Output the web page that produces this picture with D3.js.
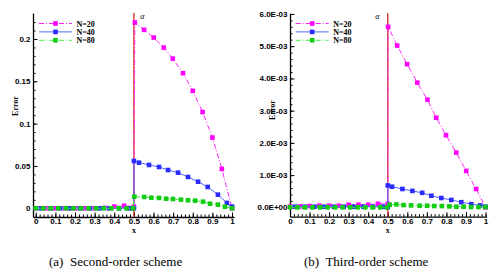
<!DOCTYPE html>
<html>
<head>
<meta charset="utf-8">
<script src="https://cdn.jsdelivr.net/npm/d3@7"></script>
<style>
  body { margin: 0; background: #fff; }
  svg { display: block; font-family: "Liberation Serif", "Times New Roman", serif; }
  .tick text { font-weight: bold; font-size: 8px; }
</style>
</head>
<body>
<div id="chart"></div>
<script>
// ---- data ----
const seriesNames = ["N=20", "N=40", "N=80"]

// (a) second-order
const a20x = [0, 0.05, 0.1, 0.15, 0.2, 0.25, 0.3, 0.35, 0.4, 0.45, 0.5, 0.505, 0.552, 0.601, 0.652, 0.698, 0.75, 0.8, 0.85, 0.9, 0.948, 1]
const a20y = [0, 0, 0, 0, 0, 0, 0, 0.0005, 0.002, 0.003, 0.002, 0.2194, 0.2108, 0.2017, 0.1898, 0.1768, 0.1596, 0.1387, 0.1137, 0.0835, 0.0465, 0]
const a40x = [0.025, 0.075, 0.125, 0.175, 0.225, 0.275, 0.325, 0.375, 0.425, 0.475, 0.5, 0.5, 0.526, 0.577, 0.628, 0.674, 0.725, 0.776, 0.827, 0.876, 0.928, 0.974, 1]
const a40y = [0, 0, 0, 0, 0, 0, 0, 0, 0, 0, 0, 0.0559, 0.0539, 0.0512, 0.0488, 0.0452, 0.0421, 0.037, 0.0314, 0.0252, 0.0161, 0.0063, 0.002]
const a80x = [0, 0.038, 0.077, 0.115, 0.154, 0.192, 0.231, 0.269, 0.308, 0.346, 0.385, 0.423, 0.462, 0.496, 0.502, 0.552, 0.589, 0.628, 0.664, 0.699, 0.74, 0.776, 0.812, 0.852, 0.888, 0.928, 0.964, 1]
const a80y = [0, 0, 0, 0, 0, 0, 0, 0, 0, 0, 0, 0, 0, 0, 0.0137, 0.0134, 0.0125, 0.0122, 0.0113, 0.011, 0.0102, 0.0095, 0.009, 0.0078, 0.0054, 0.0043, 0.0019, 0]

// (b) third-order
const b20x = [0, 0.05, 0.1, 0.15, 0.2, 0.25, 0.3, 0.35, 0.4, 0.45, 0.5, 0.502, 0.548, 0.599, 0.651, 0.703, 0.748, 0.798, 0.85, 0.901, 0.952, 1]
const b20y = [0.00002, 0.00003, 0.00004, 0.00005, 0.00005, 0.00005, 0.00008, 0.00008, 0.00008, 0.00011, 0.00011, 0.0056, 0.00502, 0.00444, 0.00387, 0.00334, 0.00278, 0.00224, 0.0017, 0.00113, 0.00057, 0]
const b40x = [0.025, 0.075, 0.125, 0.175, 0.225, 0.275, 0.325, 0.375, 0.425, 0.475, 0.5, 0.5, 0.522, 0.575, 0.626, 0.676, 0.723, 0.774, 0.825, 0.876, 0.927, 0.973, 1]
const b40y = [0.00002, 0.00002, 0.00002, 0.00002, 0.00002, 0.00002, 0.00002, 0.00002, 0.00002, 0.00002, 0.00001, 0.00068, 0.00064, 0.00057, 0.00051, 0.00045, 0.00036, 0.00029, 0.00023, 0.00016, 0.0001, 0.00006, 0.00002]
const b80x = [0, 0.038, 0.077, 0.115, 0.154, 0.192, 0.231, 0.269, 0.308, 0.346, 0.385, 0.423, 0.462, 0.496, 0.51, 0.544, 0.581, 0.619, 0.663, 0.701, 0.738, 0.777, 0.815, 0.851, 0.888, 0.926, 0.964, 1]
const b80y = [0, 0, 0, 0, 0, 0, 0, 0, 0, 0, 0, 0, 0, 0, 0.000082, 0.000092, 0.000072, 0.000061, 0.000051, 0.000051, 0.00004, 0.00004, 0.00003, 0.00002, 0.00002, 0.00001, 0.00001, 0.00001]

const xTicks = [0, 0.1, 0.2, 0.3, 0.4, 0.5, 0.6, 0.7, 0.8, 0.9, 1]
const xTickLabels = ["0", "0.1", "0.2", "0.3", "0.4", "0.5", "0.6", "0.7", "0.8", "0.9", "1"]
const aYTicks = [0, 0.05, 0.1, 0.15, 0.2]
const aYTickLabels = ["0", "0.05", "0.1", "0.15", "0.2"]
const bYTicks = [0, 0.001, 0.002, 0.003, 0.004, 0.005, 0.006]
const bYTickLabels = ["0.0E+00", "1.0E-03", "2.0E-03", "3.0E-03", "4.0E-03", "5.0E-03", "6.0E-03"]
const captions = ["(a)  Second-order scheme", "(b)  Third-order scheme"]

const lineColors = ["#ff22ff", "#5566ff", "#44ee44"]
const markColors = ["#ff00ff", "#2b2bff", "#11cc11"]
const dashes = ["5,2,1,2", null, "5,2,1,2"]

const width = 501, height = 275

const svg = d3.select("#chart").append("svg")
    .attr("width", width)
    .attr("height", height)

function drawPanel(p) {
    const g = svg.append("g")
    const x = d3.scaleLinear().domain(p.xDomain).range(p.xRange)
    const y = d3.scaleLinear().domain(p.yDomain).range(p.yRange)

    // minor ticks
    g.append("g")
        .attr("transform", `translate(0,${p.yRange[0]})`)
        .call(d3.axisBottom(x).tickValues(d3.range(0, 51).map(i => i / 50)).tickSize(-2.5).tickFormat(""))
        .call(a => a.select(".domain").remove())
    g.append("g")
        .attr("transform", `translate(${p.xRange[0]},0)`)
        .call(d3.axisLeft(y).tickValues(p.yMinor).tickSize(-2.5).tickFormat(""))
        .call(a => a.select(".domain").remove())

    // major axes
    g.append("g")
        .attr("transform", `translate(0,${p.yRange[0]})`)
        .call(d3.axisBottom(x).tickValues(xTicks).tickSizeInner(-4.5).tickSizeOuter(0).tickPadding(1.2)
            .tickFormat((d, i) => xTickLabels[i]))
    g.append("g")
        .attr("transform", `translate(${p.xRange[0]},0)`)
        .call(d3.axisLeft(y).tickValues(p.yTicks).tickSizeInner(-4.5).tickSizeOuter(0).tickPadding(2.5)
            .tickFormat((d, i) => p.yTickLabels[i]))
    g.selectAll(".domain").attr("stroke-width", 1.3)
    g.selectAll(".tick line").attr("stroke-width", 1)

    // alpha line
    g.append("line")
        .attr("x1", x(0.5)).attr("x2", x(0.5))
        .attr("y1", p.yRange[0]).attr("y2", p.yRange[1])
        .attr("stroke", "#d42a2a").attr("stroke-width", 1.3)
    g.append("text")
        .attr("x", x(0.5) + p.alphaDx).attr("y", p.yRange[1] + 6)
        .attr("font-style", "italic").attr("font-size", 8)
        .attr("text-anchor", "middle")
        .text("α")

    const line = d3.line().x(d => x(d[0])).y(d => y(d[1]))
    p.series.forEach((s, k) => {
        const pts = s[0].map((v, i) => [v, s[1][i]])
        g.append("path")
            .datum(pts)
            .attr("fill", "none")
            .attr("stroke", lineColors[k])
            .attr("stroke-width", 1)
            .attr("stroke-dasharray", dashes[k])
            .attr("d", line)
        g.selectAll("rect.m" + k)
            .data(pts)
            .join("rect")
            .attr("class", "m" + k)
            .attr("x", d => x(d[0]) - 2.3)
            .attr("y", d => y(d[1]) - 2.3)
            .attr("width", 4.6)
            .attr("height", 4.6)
            .attr("fill", markColors[k])
    })

    // legend
    const lg = g.append("g").attr("transform", `translate(${p.legendX},23.5)`)
    seriesNames.forEach((n, k) => {
        const row = lg.append("g").attr("transform", `translate(0,${k * 8.4})`)
        row.append("line").attr("x1", 0).attr("x2", 33).attr("y1", 0).attr("y2", 0)
            .attr("stroke", lineColors[k]).attr("stroke-width", 1)
            .attr("stroke-dasharray", dashes[k])
        row.append("rect").attr("x", 16.5 - 2.3).attr("y", -2.3).attr("width", 4.6).attr("height", 4.6)
            .attr("fill", markColors[k])
        row.append("text").attr("x", 37.5).attr("y", 3)
            .attr("font-size", 8).attr("font-weight", "bold")
            .text(n)
    })

    // axis titles
    g.append("text")
        .attr("x", x(0.5)).attr("y", 233)
        .attr("text-anchor", "middle").attr("font-size", 8).attr("font-weight", "bold")
        .text("x")
    g.append("text")
        .attr("transform", `translate(${p.errorX},${p.errorY}) rotate(-90)`)
        .attr("text-anchor", "middle").attr("font-size", 8).attr("font-weight", "bold")
        .text("Error")

    // caption
    svg.append("text")
        .attr("x", p.captionX).attr("y", 265.5)
        .attr("font-size", 13)
        .attr("xml:space", "preserve")
        .style("white-space", "pre")
        .text(p.caption)
}

drawPanel({
    xDomain: [-0.014, 1.01], xRange: [33, 234],
    yDomain: [-0.0103, 0.2307], yRange: [217, 13],
    yTicks: aYTicks, yTickLabels: aYTickLabels,
    yMinor: d3.range(0, 23).map(i => i / 100),
    series: [[a20x, a20y], [a40x, a40y], [a80x, a80y]],
    legendX: 39, alphaDx: 8.5,
    errorX: 18, errorY: 106,
    caption: captions[0], captionX: 49
})

drawPanel({
    xDomain: [0, 1.005], xRange: [290, 486.5],
    yDomain: [-0.00029, 0.00602], yRange: [216.7, 13.3],
    yTicks: bYTicks, yTickLabels: bYTickLabels,
    yMinor: d3.range(0, 31).map(i => i * 0.0002),
    series: [[b20x, b20y], [b40x, b40y], [b80x, b80y]],
    legendX: 295.7, alphaDx: -10.5,
    errorX: 274.5, errorY: 110,
    caption: captions[1], captionX: 304
})
</script>
</body>
</html>
